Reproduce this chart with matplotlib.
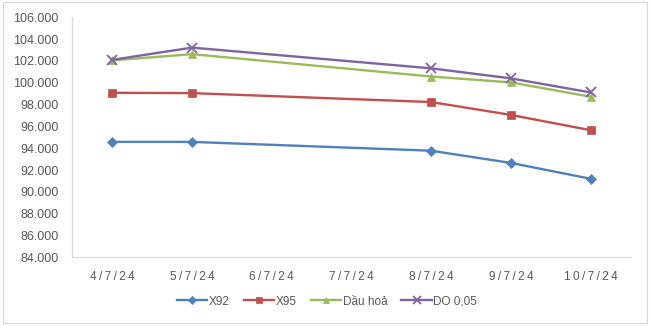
import numpy as np
import matplotlib.pyplot as plt
from matplotlib.patches import Rectangle

plt.rcParams['font.family'] = ['Liberation Sans', 'DejaVu Sans']

dates = ['4/7/24', '5/7/24', '6/7/24', '7/7/24', '8/7/24', '9/7/24', '10/7/24']
# positions of days with data (6/7 and 7/7 have no prices)
data_idx = [0, 1, 4, 5, 6]

x92 = [94.58, 94.58, 93.77, 92.65, 91.20]
x95 = [99.08, 99.05, 98.23, 97.05, 95.65]
dau_hoa = [102.05, 102.62, 100.57, 100.03, 98.72]
do005 = [102.10, 103.22, 101.32, 100.40, 99.11]

series = [
    ('X92', x92, '#4F81BD', 'D', 5),
    ('X95', x95, '#C0504D', 's', 5.5),
    ('Dầu hoả', dau_hoa, '#9BBB59', '^', 6),
    ('DO 0,05', do005, '#8064A2', 'x', 7),
]

fig = plt.figure(figsize=(6.5, 3.26), dpi=100)
ax = fig.add_axes([0.1115, 0.2107, 0.8585, 0.7363])

for name, vals, col, mk, ms in series:
    ax.plot(data_idx, vals, color=col, lw=1.7, marker=mk, markersize=ms,
            markeredgewidth=1.3 if mk == 'x' else 0.5, label=name)

ax.set_xlim(-0.5, 6.5)
ax.set_ylim(84, 106)
ax.set_yticks(np.arange(84, 107, 2))
ax.set_yticklabels([f'{v}.000' for v in range(84, 107, 2)])
ax.set_xticks(range(len(dates)))
# excel draws these dates with wide letter spacing
ax.set_xticklabels(['\u2009'.join(d) for d in dates])
ax.tick_params(length=0, labelsize=8.5, colors='#595959')
ax.tick_params(axis='y', pad=10, labelsize=9)
ax.tick_params(axis='x', pad=10)

for s in ['top', 'right']:
    ax.spines[s].set_visible(False)
for s in ['left', 'bottom']:
    ax.spines[s].set_color('#D9D9D9')
    ax.spines[s].set_linewidth(0.9)

leg = fig.legend(loc='center', bbox_to_anchor=(0.503, 0.075), ncol=4, frameon=False,
                 fontsize=8.5, handlelength=2.6, columnspacing=1.2, handletextpad=0.1,
                 markerscale=0.8)
for t in leg.get_texts():
    t.set_color('#595959')

fig.patches.append(Rectangle((0.004, 0.008), 0.992, 0.985, transform=fig.transFigure,
                             fill=False, edgecolor='#D9D9D9', lw=0.9))

fig.savefig('out.png', dpi=100)
